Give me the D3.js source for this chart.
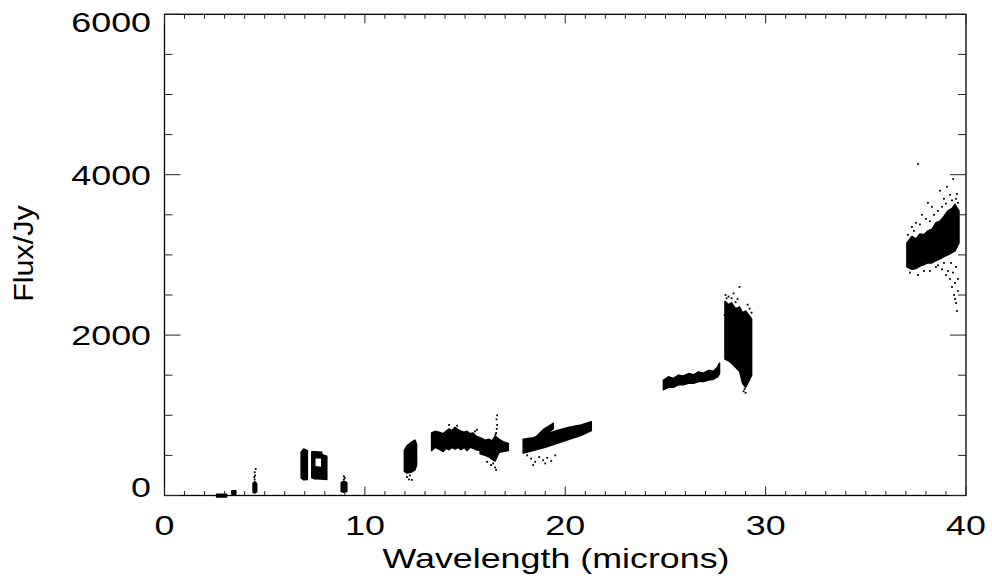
<!DOCTYPE html>
<html>
<head>
<meta charset="utf-8">
<style>
  html, body { margin: 0; padding: 0; background: #fff; }
  svg { display: block; }
  text { font-family: "Liberation Sans", Arial, Helvetica, sans-serif; fill: #000; }
</style>
</head>
<body>
<svg id="chart" width="992" height="585" viewBox="0 0 992 585" xmlns="http://www.w3.org/2000/svg"></svg>
<script src="https://d3js.org/d3.v7.min.js"></script>
<script>

// Spectral segments: each entry is [wavelength (microns), flux low (Jy), flux high (Jy)]
const seg2_6 = [[2.6, -20, 15], [3.1, -20, 15]];
const seg3_4 = [[3.36, 15, 60], [3.56, 15, 60]];
const seg4_5 = [[4.42, 40, 150], [4.5, 30, 175], [4.6, 45, 150]];
const seg7_0 = [[6.82, 220, 540], [6.95, 195, 580], [7.13, 200, 560]];
const seg7_5a = [[7.35, 220, 545], [7.5, 210, 545]];
const seg7_5b = [[7.5, 470, 545], [7.85, 470, 540]];
const seg7_5c = [[7.5, 210, 360], [7.85, 205, 350]];
const seg7_9 = [[7.85, 205, 510], [8.1, 200, 490]];
const seg9_0 = [[8.82, 50, 160], [8.95, 40, 180], [9.1, 50, 160]];
const seg12 = [[11.97, 300, 560], [12.1, 280, 620], [12.3, 290, 660], [12.5, 320, 690], [12.58, 380, 640]];
const seg13 = [[13.33, 560, 780], [13.5, 600, 800], [13.7, 580, 790], [13.9, 550, 770], [14.05, 590, 800],
               [14.2, 570, 830], [14.35, 600, 810], [14.5, 580, 850], [14.65, 600, 820], [14.8, 570, 800],
               [14.95, 600, 790], [15.1, 560, 800], [15.25, 600, 770], [15.4, 590, 780], [15.55, 570, 740], [15.75, 560, 720]];
const seg16 = [[15.75, 520, 720], [16.0, 500, 690], [16.2, 480, 700], [16.35, 450, 680], [16.5, 430, 740],
               [16.7, 540, 700], [16.9, 550, 670], [17.16, 560, 650]];
const seg18 = [[17.9, 530, 700], [18.4, 560, 720], [19.0, 600, 760], [19.6, 650, 810],
               [20.2, 700, 850], [20.8, 750, 880], [21.3, 810, 920]];
const seg19 = [[18.5, 670, 720], [18.9, 740, 820], [19.4, 830, 900]];
const seg25 = [[24.9, 1320, 1440], [25.15, 1350, 1480], [25.4, 1350, 1460], [25.65, 1380, 1500],
               [25.9, 1380, 1490], [26.15, 1400, 1520], [26.4, 1400, 1505], [26.65, 1420, 1540],
               [26.9, 1420, 1525], [27.15, 1440, 1560], [27.4, 1450, 1550], [27.6, 1480, 1600], [27.7, 1520, 1650]];
const seg28 = [[27.97, 1700, 2420], [28.15, 1680, 2380], [28.3, 1650, 2400], [28.5, 1600, 2330],
               [28.7, 1550, 2350], [28.85, 1400, 2280], [29.0, 1350, 2300], [29.15, 1420, 2250], [29.3, 1500, 2200]];
const seg37 = [[37.05, 2850, 3150], [37.3, 2820, 3230], [37.5, 2830, 3200], [37.7, 2860, 3260], [37.9, 2880, 3250],
               [38.1, 2900, 3300], [38.3, 2900, 3320], [38.5, 2930, 3400], [38.7, 2950, 3420], [38.9, 2980, 3480],
               [39.1, 3000, 3550], [39.3, 3030, 3580], [39.45, 3050, 3630], [39.65, 3150, 3550]];

const segments = [seg2_6, seg3_4, seg4_5, seg7_0, seg7_5a, seg7_5b, seg7_5c, seg7_9, seg9_0,
                  seg12, seg13, seg16, seg18, seg19, seg25, seg28, seg37];

// scattered single points [wavelength, flux]
const strays = [
  [4.5, 200], [4.52, 250], [4.48, 230], [4.5, 290], [4.55, 330],
  [8.95, 200], [9.0, 220], [8.95, 240],
  [12.1, 230], [12.2, 200], [12.35, 195], [12.25, 250],
  [14.2, 880], [14.6, 870], [15.5, 800], [15.6, 820],
  [16.52, 760], [16.55, 780], [16.58, 830], [16.6, 880], [16.57, 950], [16.6, 1000],
  [16.1, 420], [16.3, 380], [16.4, 400], [16.5, 350], [16.55, 320],
  [18.1, 500], [18.3, 460], [18.4, 380], [18.5, 420], [18.7, 480], [18.9, 440],
  [19.0, 400], [19.1, 470], [19.3, 430], [19.5, 500],
  [28.0, 2500], [28.15, 2480], [28.4, 2520], [28.6, 2450], [28.7, 2600], [29.1, 2380],
  [28.05, 2460], [28.3, 2460], [28.5, 2410], [29.2, 2330], [29.3, 2280], [27.95, 2250],
  [28.9, 1300], [29.0, 1280], [28.95, 1330],
  [37.6, 4133], [39.36, 3946], [37.3, 3350], [37.5, 3400], [37.8, 3500], [38.0, 3450],
  [38.1, 3650], [38.3, 3600], [38.6, 3550], [38.9, 3700], [39.2, 3750], [39.5, 3700],
  [37.1, 3250], [37.4, 3300], [37.7, 3380], [38.2, 3420], [38.4, 3500], [38.8, 3600],
  [39.0, 3640], [39.3, 3680], [39.6, 3650], [39.55, 3760], [38.7, 3800], [39.05, 3850],
  [37.2, 2780], [37.9, 2800], [38.6, 2870], [38.8, 2820],
  [37.6, 2750], [38.2, 2800], [38.5, 2850], [38.9, 2900], [39.0, 2750], [39.1, 2800],
  [39.2, 2700], [39.3, 2600], [39.45, 2650], [39.4, 2500], [39.5, 2400], [39.6, 2550], [39.55, 2300],
  [39.25, 2900], [39.35, 2780], [39.5, 2850], [39.6, 2700], [39.45, 2450]
];

const xMajor = [0, 10, 20, 30, 40];
const xMinor = d3.range(0, 41, 1);
const yMajor = [0, 2000, 4000, 6000];
const yMinor = d3.range(0, 6001, 500);

const plotLeft = 164.5, plotRight = 966, plotTop = 14.3, plotBottom = 495.5;
const labelStretch = 1.28;

const x = d3.scaleLinear().domain([0, 40]).range([plotLeft, plotRight]);
const y = d3.scaleLinear().domain([0, 6000]).range([plotBottom, plotTop]);

const svg = d3.select("#chart");

// data
const area = d3.area()
  .x(d => x(d[0]))
  .y0(d => y(d[1]))
  .y1(d => y(d[2]));

segments.forEach(seg => {
  svg.append("path")
    .attr("d", area(seg))
    .attr("fill", "#000")
    .attr("stroke", "#000")
    .attr("stroke-width", 1.5)
    .attr("stroke-linejoin", "round");
});

svg.append("g").selectAll("rect")
  .data(strays)
  .join("rect")
  .attr("x", d => x(d[0]) - 0.9)
  .attr("y", d => y(d[1]) - 0.9)
  .attr("width", 1.8)
  .attr("height", 1.8)
  .attr("fill", "#000");

// frame
svg.append("rect")
  .attr("x", plotLeft)
  .attr("y", plotTop)
  .attr("width", plotRight - plotLeft)
  .attr("height", plotBottom - plotTop)
  .attr("fill", "none")
  .attr("stroke", "#000")
  .attr("stroke-width", 1.3);

// x ticks, bottom and top, pointing inward
xMinor.forEach(v => {
  const len = xMajor.includes(v) ? 9 : 4.5;
  [[plotBottom, -len], [plotTop, len]].forEach(([y0, dl]) => {
    svg.append("line")
      .attr("x1", x(v)).attr("x2", x(v))
      .attr("y1", y0).attr("y2", y0 + dl)
      .attr("stroke", "#222").attr("stroke-width", 1);
  });
});

// y ticks, left and right
yMinor.forEach(v => {
  const len = yMajor.includes(v) ? 16 : 8;
  [[plotLeft, len], [plotRight, -len]].forEach(([x0, dl]) => {
    svg.append("line")
      .attr("x1", x0).attr("x2", x0 + dl)
      .attr("y1", y(v)).attr("y2", y(v))
      .attr("stroke", "#222").attr("stroke-width", 1);
  });
});

// tick labels
xMajor.forEach(v => {
  svg.append("text")
    .attr("transform", `translate(${x(v)},535) scale(${labelStretch},1)`)
    .attr("text-anchor", "middle")
    .attr("font-size", 28)
    .text(v);
});

yMajor.forEach(v => {
  // keep end labels inside the frame height, like IDL does
  const base = Math.max(plotTop + 17.5, Math.min(plotBottom + 1.8, y(v) + 10));
  svg.append("text")
    .attr("transform", `translate(151,${base}) scale(${labelStretch},1)`)
    .attr("text-anchor", "end")
    .attr("font-size", 28)
    .text(v);
});

// axis titles
svg.append("text")
  .attr("transform", `translate(556,568) scale(${labelStretch},1)`)
  .attr("text-anchor", "middle")
  .attr("font-size", 28)
  .text("Wavelength (microns)");

svg.append("text")
  .attr("transform", "translate(33,253.5) rotate(-90) scale(1.09,1)")
  .attr("text-anchor", "middle")
  .attr("font-size", 28)
  .text("Flux/Jy");
</script>
</body>
</html>
